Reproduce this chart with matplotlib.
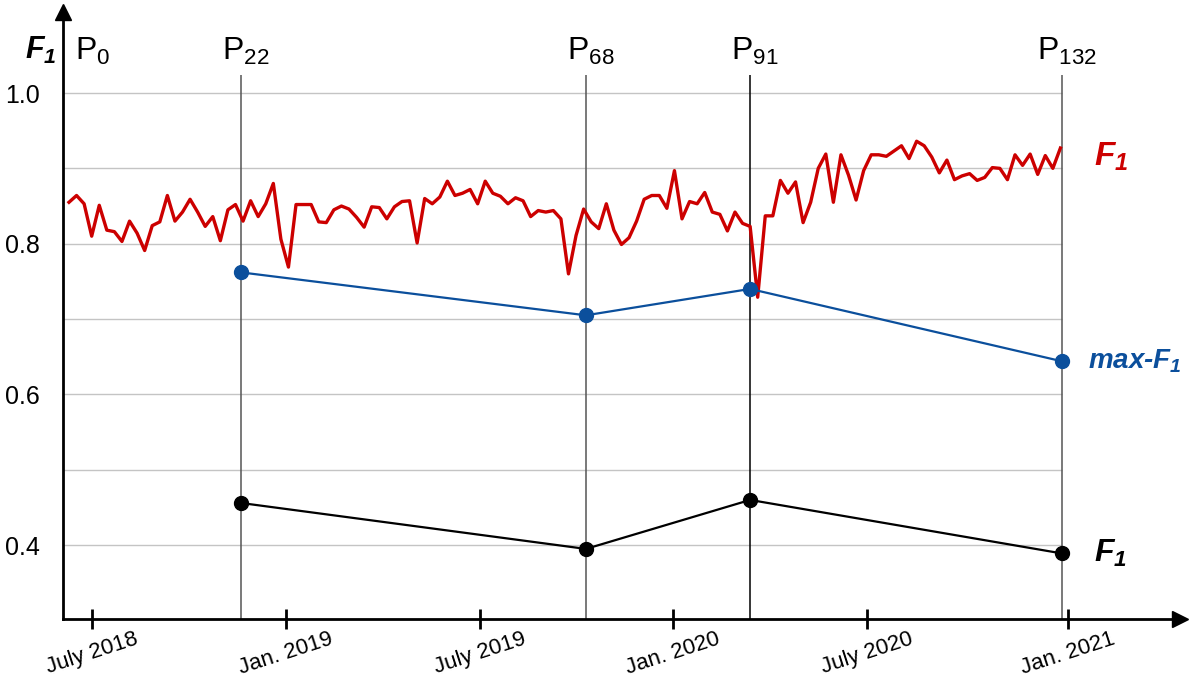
import matplotlib
matplotlib.use('Agg')
import matplotlib.pyplot as plt

plt.rcParams['font.family'] = ['Liberation Sans', 'DejaVu Sans']
plt.rcParams['mathtext.fontset'] = 'custom'
plt.rcParams['mathtext.rm'] = 'Liberation Sans'
plt.rcParams['mathtext.it'] = 'Liberation Sans:italic'
plt.rcParams['mathtext.bf'] = 'Liberation Sans:bold'
plt.rcParams['mathtext.bfit'] = 'Liberation Sans:italic:bold'

# weekly F1 of the model (red), period index 0..131
f1_weekly = [0.855, 0.864, 0.853, 0.810, 0.851, 0.818, 0.816, 0.803, 0.830, 0.814,
             0.791, 0.824, 0.829, 0.864, 0.830, 0.842, 0.859, 0.842, 0.823, 0.836,
             0.804, 0.845, 0.852, 0.830, 0.857, 0.836, 0.853, 0.880, 0.806, 0.769,
             0.852, 0.852, 0.852, 0.829, 0.828, 0.845, 0.850, 0.846, 0.835, 0.822,
             0.849, 0.848, 0.833, 0.849, 0.856, 0.857, 0.801, 0.860, 0.853, 0.862,
             0.883, 0.864, 0.867, 0.872, 0.853, 0.883, 0.867, 0.863, 0.853, 0.861,
             0.857, 0.836, 0.844, 0.842, 0.844, 0.833, 0.760, 0.811, 0.846, 0.829,
             0.820, 0.853, 0.818, 0.799, 0.808, 0.830, 0.859, 0.864, 0.864, 0.847,
             0.897, 0.833, 0.856, 0.853, 0.868, 0.842, 0.839, 0.817, 0.842, 0.827,
             0.823, 0.729, 0.837, 0.837, 0.884, 0.867, 0.882, 0.828, 0.855, 0.900,
             0.919, 0.855, 0.918, 0.891, 0.858, 0.897, 0.918, 0.918, 0.916, 0.923,
             0.930, 0.913, 0.936, 0.930, 0.915, 0.894, 0.911, 0.885, 0.890, 0.893,
             0.884, 0.888, 0.901, 0.900, 0.885, 0.918, 0.904, 0.919, 0.892, 0.917,
             0.900, 0.927]
weeks = list(range(len(f1_weekly)))

# marked periods
period_names = ['22', '68', '91', '132']
period_pos = [22.7, 68.3, 90.0, 131.2]
max_f1 = [0.762, 0.705, 0.740, 0.644]
f1_new = [0.456, 0.395, 0.460, 0.389]

date_pos = [3.0, 28.7, 54.3, 79.8, 105.4, 132.0]
date_labels = ['July 2018', 'Jan. 2019', 'July 2019', 'Jan. 2020', 'July 2020', 'Jan. 2021']
grid_y = [0.4, 0.5, 0.6, 0.7, 0.8, 0.9, 1.0]
ytick_vals = [0.4, 0.6, 0.8, 1.0]

RED = '#cc0000'
BLUE = '#0b4f9c'

fig = plt.figure(figsize=(11.89, 6.81), dpi=100)
ax = fig.add_axes([63 / 1189, 62 / 681, 1117 / 1189, 607 / 681])
ax.set_xlim(-0.79, 146.8)
ax.set_ylim(0.302, 1.1075)

for s in ['top', 'right']:
	ax.spines[s].set_visible(False)
for s in ['left', 'bottom']:
	ax.spines[s].set_linewidth(2)
ax.plot(1, 0, '>k', transform=ax.transAxes, clip_on=False, markersize=11)
ax.plot(0, 1, '^k', transform=ax.transAxes, clip_on=False, markersize=11)

ax.hlines(grid_y, -0.79, period_pos[-1], color='#c4c4c4', lw=1, zorder=1)

colors = ['#555555', '#555555', '#000000', '#555555']
for p, c in zip(period_pos, colors):
	ax.vlines(p, 0.302, 1.024, color=c, lw=1.1, zorder=2)

ax.plot(weeks, f1_weekly, color=RED, lw=2.4, zorder=3)
ax.plot(period_pos, max_f1, '-o', color=BLUE, lw=1.6, markersize=10, zorder=4)
ax.plot(period_pos, f1_new, '-o', color='black', lw=1.6, markersize=10, zorder=4)

# period labels
ax.text(0.8, 1.044, r'P$_0$', fontsize=23, ha='left', va='baseline')
for name, p in zip(period_names, period_pos):
	ax.text(p + 0.6, 1.044, r'P$_{%s}$' % name, fontsize=23, ha='center', va='baseline')

# series labels
ax.text(135.5, 0.915, r'$\mathbfit{F_1}$', fontsize=24, color=RED, ha='left', va='center')
ax.text(134.6, max_f1[-1], r'max-$\mathbfit{F_1}$', fontsize=20, color=BLUE,
	fontweight='bold', fontstyle='italic', ha='left', va='center')
ax.text(135.5, f1_new[-1], r'$\mathbfit{F_1}$', fontsize=23, color='black', ha='left', va='center')
ax.text(-1.6, 1.057, r'$\mathbfit{F_1}$', fontsize=22, ha='right', va='center')

ax.set_yticks(ytick_vals)
ax.set_yticklabels(['%.1f' % v for v in ytick_vals], fontsize=18)
ax.tick_params(axis='y', length=0, pad=17)

ax.set_xticks(date_pos)
ax.set_xticklabels(date_labels, fontsize=16, rotation=18, ha='center')
ax.tick_params(axis='x', direction='inout', length=14, width=2, pad=0)

plt.savefig('out.png', dpi=100)
